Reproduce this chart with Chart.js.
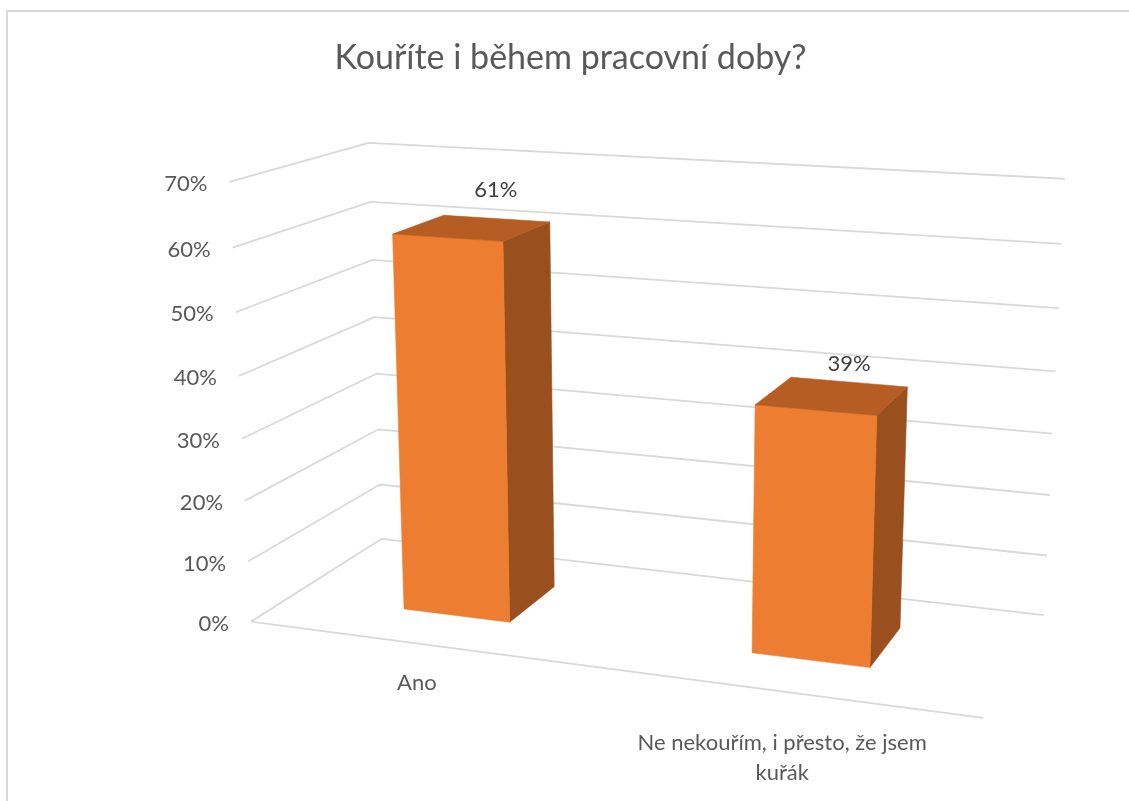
<!DOCTYPE html>
<html lang="cs">
<head>
<meta charset="utf-8">
<title>Kouříte i během pracovní doby?</title>
<script src="https://cdn.jsdelivr.net/npm/chart.js@4.4.1/dist/chart.umd.min.js"></script>
<style>
  html, body { margin: 0; padding: 0; background: #ffffff; }
  #wrap { position: relative; width: 1129px; height: 801px; overflow: hidden; }
  canvas { display: block; }
</style>
</head>
<body>
<div id="wrap"><canvas id="chart" width="1129" height="801"></canvas></div>
<script>
// ---- data ----
const chartTitle = 'Kouříte i během pracovní doby?';
const categories = ['Ano', ['Ne nekouřím, i přesto, že jsem', 'kuřák']];
const values = [61, 39];              // percent of respondents
const axisMin = 0;
const axisMax = 70;
const axisStep = 10;

// ---- look ----
const FONT = 'Lato, "Open Sans", sans-serif';
const GRID = '#d9d9d9';
const FRONT = '#ED7D31';
const TOP = '#B55D22';
const SIDE = '#9A4F1E';

// 3-D view: the box is turned 20° and tilted 15° towards the viewer,
// with a perspective camera looking at it.
const VIEW = { yaw: 20, pitch: 15.3, focal: 2272, cx: 652, cy: 446 };
const ROOM = { ox: -17.65, oy: -7.73, oz: 100, width: 32.63, depth: 12.79, height: 19.45 };

function project(X, Y, Z) {
  const a = VIEW.yaw * Math.PI / 180, b = VIEW.pitch * Math.PI / 180;
  const hx = X * Math.cos(a) + Z * Math.sin(a);
  const hz = -X * Math.sin(a) + Z * Math.cos(a);
  const hy = Y;
  const xc = ROOM.ox + hx;
  const yc = ROOM.oy + hy * Math.cos(b) + hz * Math.sin(b);
  const zc = ROOM.oz + hz * Math.cos(b) - hy * Math.sin(b);
  return { x: VIEW.cx + VIEW.focal * xc / zc, y: VIEW.cy - VIEW.focal * yc / zc };
}

function poly(ctx, pts, fill) {
  ctx.beginPath();
  ctx.moveTo(pts[0].x, pts[0].y);
  for (let i = 1; i < pts.length; i++) ctx.lineTo(pts[i].x, pts[i].y);
  ctx.closePath();
  ctx.fillStyle = fill;
  ctx.fill();
  ctx.strokeStyle = fill;
  ctx.lineWidth = 0.6;
  ctx.stroke();
}

const pct = v => v + '%';

// Draws the walls, grid, tick labels and the bars as 3-D boxes from the
// positions Chart.js computes on its own (hidden) scales.
const box3d = {
  id: 'box3d',
  beforeDatasetsDraw() { return false; },
  afterDraw(chart) {
    const ctx = chart.ctx;
    const xs = chart.scales.x, ys = chart.scales.y;
    const toX = px => (px - xs.left) / (xs.right - xs.left) * ROOM.width;
    const toY = v => (ys.bottom - ys.getPixelForValue(v)) / (ys.bottom - ys.top) * ROOM.height;
    const L = ROOM.width, D = ROOM.depth;

    ctx.save();
    // chart frame
    ctx.strokeStyle = GRID;
    ctx.lineWidth = 2;
    ctx.strokeRect(7, 11, chart.width + 20, chart.height + 20);

    // gridlines on side wall and back wall
    ctx.lineWidth = 1.8;
    ctx.strokeStyle = GRID;
    ctx.lineJoin = 'round';
    ys.ticks.forEach(t => {
      const Y = toY(t.value);
      const p0 = project(0, Y, 0), p1 = project(0, Y, D), p2 = project(L, Y, D);
      ctx.beginPath();
      ctx.moveTo(p0.x, p0.y); ctx.lineTo(p1.x, p1.y); ctx.lineTo(p2.x, p2.y);
      ctx.stroke();
    });
    // front edge of the floor
    const f0 = project(0, 0, 0), f1 = project(L, 0, 0);
    ctx.beginPath(); ctx.moveTo(f0.x, f0.y); ctx.lineTo(f1.x, f1.y); ctx.stroke();

    // value axis labels
    ctx.font = '22px ' + FONT;
    ctx.fillStyle = '#595959';
    ctx.textAlign = 'right';
    ctx.textBaseline = 'middle';
    ys.ticks.forEach(t => {
      const p = project(0, toY(t.value), 0);
      ctx.fillText(t.label, p.x - 22, p.y + 2);
    });

    // bars
    const meta = chart.getDatasetMeta(0);
    meta.data.forEach((bar, i) => {
      const xl = toX(bar.x - bar.width / 2), xr = toX(bar.x + bar.width / 2);
      const w = xr - xl;
      const z0 = (D - w) / 2, z1 = z0 + w;
      const h = toY(values[i]);
      const P = (X, Y, Z) => project(X, Y, Z);
      // right side
      poly(ctx, [P(xr, 0, z0), P(xr, 0, z1), P(xr, h, z1), P(xr, h, z0)], SIDE);
      // front
      poly(ctx, [P(xl, 0, z0), P(xr, 0, z0), P(xr, h, z0), P(xl, h, z0)], FRONT);
      // top
      poly(ctx, [P(xl, h, z0), P(xr, h, z0), P(xr, h, z1), P(xl, h, z1)], TOP);

      // value label floating just above the back edge of the top face
      const lp = P((xl + xr) / 2, h * 1.075, z1);
      ctx.font = '22px ' + FONT;
      ctx.fillStyle = '#404040';
      ctx.textAlign = 'center';
      ctx.textBaseline = 'middle';
      ctx.fillText(pct(values[i]), lp.x, lp.y);
    });

    // category labels below the floor
    ctx.font = '22px ' + FONT;
    ctx.fillStyle = '#595959';
    ctx.textAlign = 'center';
    ctx.textBaseline = 'alphabetic';
    categories.forEach((lab, i) => {
      const Xc = toX(xs.getPixelForValue(i));
      const ax = project(Xc, 0, 0).x - 2;
      const ay = project(Xc, 0, -11).y - 47;
      const lines = Array.isArray(lab) ? lab : [lab];
      lines.forEach((s, k) => ctx.fillText(s, ax, ay + k * 30));
    });
    ctx.restore();
  }
};

new Chart(document.getElementById('chart'), {
  type: 'bar',
  data: {
    labels: categories,
    datasets: [{ data: values, backgroundColor: FRONT, categoryPercentage: 1, barPercentage: 0.315 }]
  },
  options: {
    responsive: false,
    devicePixelRatio: 1,
    animation: false,
    events: [],
    layout: { padding: { left: 12, top: 8, right: 0, bottom: 0 } },
    plugins: {
      legend: { display: false },
      tooltip: { enabled: false },
      title: {
        display: true,
        text: chartTitle,
        color: '#595959',
        font: { family: FONT, size: 34, weight: 'normal' },
        padding: { top: 30, bottom: 20 }
      }
    },
    scales: {
      x: { display: false },
      y: {
        display: false,
        min: axisMin,
        max: axisMax,
        ticks: { stepSize: axisStep, callback: v => pct(v) }
      }
    }
  },
  plugins: [box3d]
});
</script>
</body>
</html>
